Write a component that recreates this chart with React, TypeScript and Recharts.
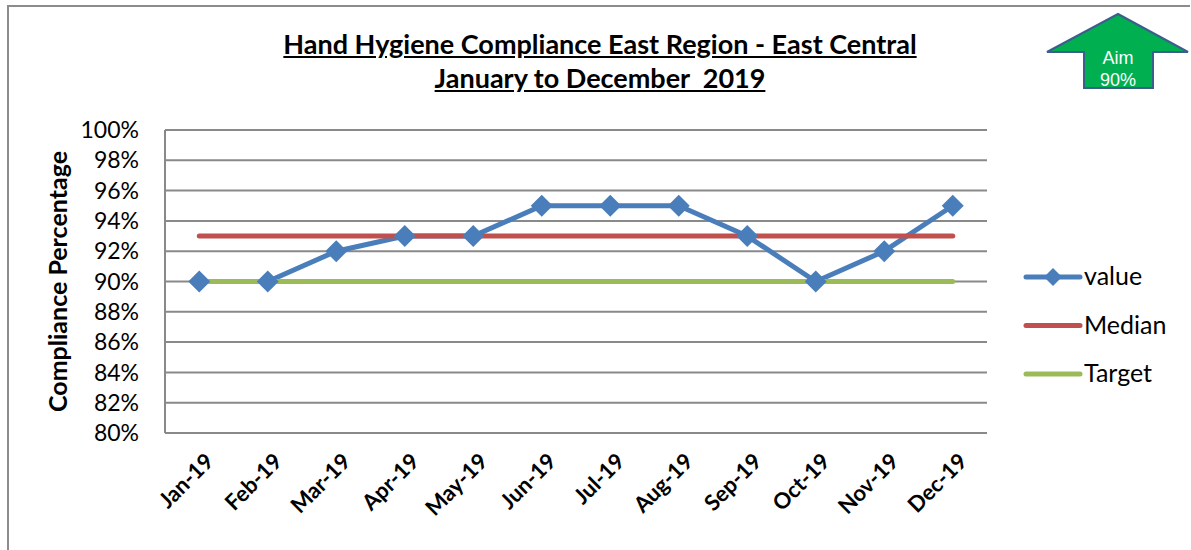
import React from 'react';
import { LineChart, Line, XAxis, YAxis, CartesianGrid } from 'recharts';

const months = ['Jan-19', 'Feb-19', 'Mar-19', 'Apr-19', 'May-19', 'Jun-19', 'Jul-19', 'Aug-19', 'Sep-19', 'Oct-19', 'Nov-19', 'Dec-19'];
const values = [90, 90, 92, 93, 93, 95, 95, 95, 93, 90, 92, 95];
const median = [93, 93, 93, 93, 93, 93, 93, 93, 93, 93, 93, 93];
const target = [90, 90, 90, 90, 90, 90, 90, 90, 90, 90, 90, 90];
const yTicks = [80, 82, 84, 86, 88, 90, 92, 94, 96, 98, 100];

const BLUE = '#4A7EBB';
const RED = '#C0504D';
const GREEN = '#9BBB59';
const GRID = '#898989';
const FONT = 'Lato, "Open Sans", sans-serif';

const data = months.map((m, i) => ({ month: m, value: values[i], Median: median[i], Target: target[i] }));

const Diamond = (props: any) => {
  const { cx, cy } = props;
  if (cx == null || cy == null) return null;
  const r = 11;
  return <polygon points={`${cx},${cy - r} ${cx + r},${cy} ${cx},${cy + r} ${cx - r},${cy}`} fill={BLUE} />;
};

const MonthTick = (props: any) => {
  const { x, y, payload } = props;
  return (
    <g transform={`translate(${x + 10},${y + 16})`}>
      <text transform="rotate(-45)" textAnchor="end" dy={8} fontFamily={FONT} fontWeight={700} fontSize={22} fill="#000">
        {payload.value}
      </text>
    </g>
  );
};

const LegendBox = () => {
  const items = [
    { name: 'value', color: BLUE, marker: true },
    { name: 'Median', color: RED, marker: false },
    { name: 'Target', color: GREEN, marker: false },
  ];
  return (
    <svg width={170} height={130}>
      {items.map((it, i) => {
        const y = 17 + i * 48.5;
        return (
          <g key={it.name}>
            <line x1={4} x2={58} y1={y} y2={y} stroke={it.color} strokeWidth={5} strokeLinecap="round" />
            {it.marker && <polygon points={`31,${y - 9} 40,${y} 31,${y + 9} 22,${y}`} fill={it.color} />}
            <text x={62} y={y + 8} fontFamily={FONT} fontSize={25} fill="#000">{it.name}</text>
          </g>
        );
      })}
    </svg>
  );
};

export default function App() {
  return (
    <div style={{ position: 'absolute', left: 0, top: 0, width: 1191, height: 550, background: '#fff', overflow: 'hidden' }}>
      <div style={{ position: 'absolute', left: 7, top: 5, width: 1181, height: 560, borderTop: '2px solid #8c8c8c', borderLeft: '2px solid #8c8c8c' }} />
      <div style={{ position: 'absolute', left: 200, width: 800, top: 27, textAlign: 'center', fontFamily: FONT, fontWeight: 700, fontSize: 27, lineHeight: '34px', textDecoration: 'underline', color: '#000' }}>
        <div>Hand Hygiene Compliance East Region - East Central</div>
        <div>January to December&nbsp; 2019</div>
      </div>
      <svg style={{ position: 'absolute', left: 0, top: 0 }} width={1191} height={100}>
        <polygon points="1118,14 1188,52 1153,52 1153,88 1084,88 1084,52 1047,52" fill="#00B050" stroke="#3B5E8C" strokeWidth={2} />
        <text x={1118} y={64} textAnchor="middle" fontFamily='"Liberation Sans", Arial, sans-serif' fontSize={18} fill="#fff">Aim</text>
        <text x={1118} y={86} textAnchor="middle" fontFamily='"Liberation Sans", Arial, sans-serif' fontSize={18} fill="#fff">90%</text>
      </svg>
      <div style={{ position: 'absolute', left: 0, top: 0 }}>
        <LineChart width={1191} height={550} data={data} margin={{ top: 130, right: 204, bottom: 0, left: 105 }}>
          <CartesianGrid vertical={false} stroke={GRID} strokeWidth={2} />
          <XAxis dataKey="month" scale="band" interval={0} axisLine={{ stroke: GRID, strokeWidth: 2 }} tickLine={false} tick={<MonthTick />} height={117} />
          <YAxis
            domain={[80, 100]}
            ticks={yTicks}
            interval={0}
            width={60}
            axisLine={{ stroke: GRID, strokeWidth: 2 }}
            tickLine={false}
            tickSize={0}
            tickMargin={26}
            tickFormatter={(v: number) => `${v}%`}
            tick={{ fontFamily: FONT, fontSize: 23, fill: '#000' }}
            label={{ value: 'Compliance Percentage', angle: -90, position: 'insideLeft', offset: -47, style: { textAnchor: 'middle', fontFamily: FONT, fontWeight: 700, fontSize: 25, fill: '#000' } }}
          />
          <Line dataKey="value" stroke={BLUE} strokeWidth={5} strokeLinecap="round" strokeLinejoin="round" dot={<Diamond />} activeDot={false} isAnimationActive={false} />
          <Line dataKey="Median" stroke={RED} strokeWidth={5} strokeLinecap="round" dot={false} activeDot={false} isAnimationActive={false} />
          <Line dataKey="Target" stroke={GREEN} strokeWidth={5} strokeLinecap="round" dot={false} activeDot={false} isAnimationActive={false} />
        </LineChart>
      </div>
      <div style={{ position: 'absolute', left: 1022, top: 260 }}>
        <LegendBox />
      </div>
    </div>
  );
}
